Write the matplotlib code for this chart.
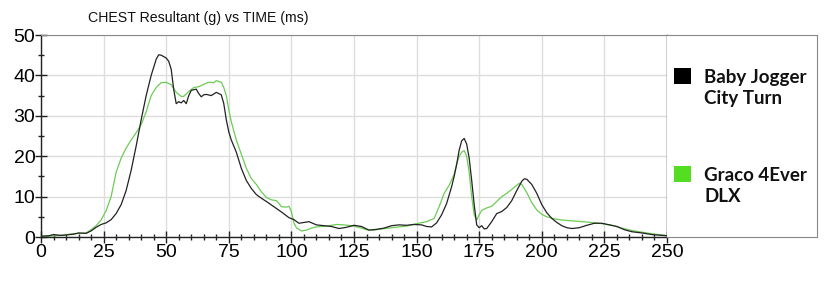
import matplotlib
matplotlib.use("Agg")
import matplotlib.pyplot as plt
from matplotlib.ticker import MultipleLocator
from matplotlib.patches import Rectangle

# --- DATA ---
TITLE = "CHEST Resultant (g) vs TIME (ms)"
SERIES_NAMES = ["Baby Jogger\nCity Turn", "Graco 4Ever\nDLX"]

time_bj = [0, 3, 5, 8, 10, 13, 15, 18, 20, 22, 24, 26, 28, 30, 32, 34, 36, 38, 40, 42,
           44, 46, 47, 48, 50, 51, 52, 53, 54, 55, 56, 57, 58, 59, 60, 62, 63, 64, 65, 66,
           68, 70, 71, 72, 73, 74, 75, 76, 77, 78, 80, 82, 84, 86, 88, 90, 93, 96, 99, 101,
           103, 105, 107, 110, 113, 116, 119, 122, 125, 128, 131, 134, 137, 140, 143, 146,
           149, 152, 154, 156, 158, 160, 162, 164, 165, 166, 167, 168, 169, 170, 171, 172,
           173, 174, 175, 176, 177, 178, 180, 182, 184, 186, 188, 190, 192, 193, 194, 196,
           198, 200, 202, 204, 206, 208, 210, 212, 215, 218, 221, 224, 227, 230, 233, 236,
           240, 244, 248, 250]
chest_bj = [0.2, 0.3, 0.6, 0.4, 0.5, 0.7, 1.0, 0.9, 1.5, 2.4, 3.1, 3.5, 4.3, 5.8, 8.0, 11.5,
            16.5, 22.5, 29, 35, 40, 44, 45.1, 45, 44.3, 43.5, 41.5, 36.5, 33, 33.5, 33.2,
            33.8, 33, 35, 36.3, 36.6, 35.5, 34.7, 35.2, 35.3, 35, 35.8, 35.5, 35.2, 33, 29,
            26, 24, 22.5, 21, 17, 14, 12, 10.5, 9.6, 8.8, 7.5, 6.2, 4.8, 4.3, 3.4, 3.6, 3.8,
            3.0, 2.8, 2.6, 2.1, 2.4, 2.9, 2.6, 1.7, 1.9, 2.2, 2.8, 3.0, 2.9, 3.1, 3.0, 2.6,
            2.5, 3.5, 5.5, 8.3, 12.5, 15, 18, 21.5, 23.8, 24.4, 23, 19.5, 14, 8, 3, 2.3, 2.8,
            2.0, 2.1, 3.8, 5.8, 6.3, 7.3, 9, 11.5, 13.8, 14.4, 14.3, 13, 10.8, 8, 6, 4.6,
            3.6, 2.8, 2.3, 2.1, 2.3, 2.9, 3.4, 3.4, 3.0, 2.6, 1.8, 1.3, 1.0, 0.6, 0.4, 0.3]

time_gr = [0, 3, 5, 8, 10, 13, 15, 18, 20, 22, 24, 26, 28, 30, 32, 34, 36, 38, 40, 42,
           44, 46, 48, 50, 52, 54, 56, 57, 59, 61, 63, 65, 67, 69, 70, 72, 73, 74, 75, 76,
           78, 80, 82, 84, 86, 88, 90, 92, 94, 95, 96, 98, 99, 100, 101, 102, 104, 106, 108,
           110, 114, 118, 121, 124, 127, 130, 133, 136, 140, 143, 146, 150, 154, 157, 159,
           161, 163, 165, 166, 167, 168, 169, 170, 171, 172, 173, 174, 175, 176, 178, 180,
           182, 184, 186, 188, 190, 191, 192, 194, 196, 198, 200, 202, 205, 208, 212, 216,
           220, 224, 228, 232, 236, 240, 244, 248, 250]
chest_gr = [0.1, 0.2, 0.3, 0.4, 0.6, 0.8, 0.9, 1.0, 1.8, 2.8, 4.2, 6.5, 10, 16, 19.5, 22,
            24, 25.8, 27.8, 31, 35, 37, 38.2, 38.3, 37.7, 35.8, 34.8, 34.8, 36, 37, 37.2,
            37.8, 38.3, 38.2, 38.7, 38.3, 37, 35, 31.5, 28.5, 24, 20.5, 17, 14.5, 13, 11.2,
            9.8, 9.2, 9.0, 8.3, 7.5, 7.4, 7.6, 6.3, 3.5, 2.3, 1.5, 1.7, 2.2, 2.5, 2.7, 3.1,
            3.0, 2.8, 2.4, 1.8, 1.7, 2.0, 2.3, 2.5, 2.7, 3.3, 3.8, 4.6, 7.5, 10.8, 12.8, 15.5,
            18, 20, 21, 21.4, 20, 16, 10, 5.5, 4.2, 5.5, 6.6, 7.2, 7.6, 8.8, 10, 10.8, 11.8,
            12.8, 13.3, 13.0, 11, 8.5, 6.7, 5.6, 5.0, 4.5, 4.2, 4.0, 3.8, 3.6, 3.3, 2.9, 2.2,
            1.6, 1.2, 0.8, 0.5, 0.4]

LINE_COLORS = ["#222222", "#6ccc55"]
SWATCH_COLORS = ["#000000", "#55dd22"]

# --- FIGURE ---
W, H = 830, 282
fig = plt.figure(figsize=(W / 100, H / 100), dpi=100)
left, right, top, bottom = 41, 667, 35, 237
ax = fig.add_axes([left / W, 1 - bottom / H, (right - left) / W, (bottom - top) / H])

ax.plot(time_bj, chest_bj, color=LINE_COLORS[0], lw=0.9, zorder=3)
ax.plot(time_gr, chest_gr, color=LINE_COLORS[1], lw=0.9, zorder=2)

ax.set_xlim(0, 250)
ax.set_ylim(0, 50)
ax.xaxis.set_major_locator(MultipleLocator(25))
ax.xaxis.set_minor_locator(MultipleLocator(5))
ax.yaxis.set_major_locator(MultipleLocator(10))
ax.yaxis.set_minor_locator(MultipleLocator(5))
ax.grid(True, which="major", color="#dddddd", lw=1.0, zorder=0)
ax.set_axisbelow(True)

ax.tick_params(which="major", direction="inout", length=8, width=1, color="#222222")
ax.tick_params(which="minor", direction="inout", length=4.5, width=1, color="#222222")
ax.tick_params(axis="x", which="major", labelsize=14, pad=1)
ax.tick_params(axis="y", which="major", labelsize=14, pad=0)
for lbl in ax.get_xticklabels() + ax.get_yticklabels():
    lbl.set_family("Liberation Sans")

for side in ["left", "bottom", "right"]:
    ax.spines[side].set_color("#222222")
    ax.spines[side].set_linewidth(1.0)
ax.spines["top"].set_color("#888888")

fig.text(88 / W, 1 - 18 / H, TITLE, va="center", ha="left", color="#111111",
         family="Liberation Sans", fontsize=10.2)

# legend box to the right of the plot
box = fig.add_axes([right / W, 1 - bottom / H, (817 - right) / W, (bottom - top) / H])
box.set_xticks([])
box.set_yticks([])
box.set_xlim(0, 150)
box.set_ylim(202, 0)
for side in box.spines:
    box.spines[side].set_color("#888888")
box.spines["left"].set_visible(False)

entry_y = [41, 139]
for name, col, y in zip(SERIES_NAMES, SWATCH_COLORS, entry_y):
    box.add_patch(Rectangle((7, y - 8), 17, 16, facecolor=col, edgecolor="none"))
    box.text(37, y + 12, name, fontsize=13.5, fontweight="bold", family="Lato",
             va="center", ha="left", linespacing=1.3, color="#111111")

fig.savefig("out.png", dpi=100)
